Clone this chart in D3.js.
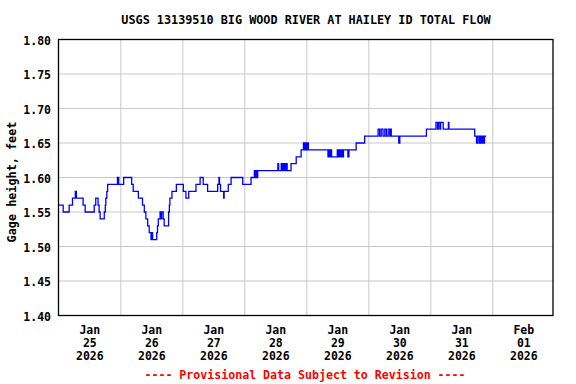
<!DOCTYPE html>
<html>
<head>
<meta charset="utf-8">
<script src="https://cdn.jsdelivr.net/npm/d3@7"></script>
<style>
  body { margin: 0; background: #fff; }
  text { font-family: "DejaVu Sans Mono", monospace; font-weight: bold; }
</style>
</head>
<body>
<script>
// gage readings: hours since Jan 25 2026 00:00 and gage height (ft), stored as change points
var readingHours = [0.0, 1.7, 4.0, 5.3, 6.4, 6.8, 9.4, 10.2, 13.7, 14.3, 15.2, 15.6, 16.0, 17.6, 18.0, 18.2, 18.6, 18.9,
  22.7, 23.2, 25.1, 28.2, 28.8, 30.8, 32.4, 33.1, 33.7, 34.4, 35.0, 35.7, 36.0, 36.3, 37.9, 38.2, 38.5,
  39.2, 39.5, 39.8, 40.4, 40.8, 42.5, 42.8, 43.0, 43.8, 45.5, 48.2, 49.2, 50.3, 53.1, 54.7, 55.9, 57.6,
  61.5, 62.0, 62.2, 62.6, 63.8, 64.0, 65.6, 66.7, 71.2, 74.4, 75.7, 76.0, 76.3, 76.6, 77.0, 84.8, 85.1,
  86.1, 86.5, 87.0, 87.5, 88.0, 88.4, 89.9, 91.9, 93.8, 94.7, 95.0, 95.3, 95.8, 96.1, 96.6,
  104.2, 104.5, 104.8, 105.2, 105.6, 107.8, 108.1, 108.5, 108.9, 109.3, 109.8, 110.2, 111.9, 112.3,
  115.1, 118.4, 123.6, 124.2, 124.8, 125.5, 126.2, 126.8, 127.5, 128.1, 128.4, 128.7, 131.6, 132.0,
  142.3, 146.0, 146.6, 146.9, 147.5, 147.8, 148.8, 150.8, 151.0, 161.0, 161.7, 162.0, 162.6, 163.0,
  163.5, 164.0, 164.4, 164.8, 165.5];
var gageHeight = [1.56, 1.55, 1.56, 1.57, 1.58, 1.57, 1.56, 1.55, 1.56, 1.57, 1.56, 1.55, 1.54, 1.55, 1.56, 1.57, 1.58, 1.59,
  1.60, 1.59, 1.60, 1.59, 1.58, 1.57, 1.56, 1.55, 1.54, 1.53, 1.52, 1.51, 1.52, 1.51, 1.52, 1.53, 1.54,
  1.55, 1.54, 1.55, 1.54, 1.53, 1.55, 1.56, 1.57, 1.58, 1.59, 1.58, 1.57, 1.58, 1.59, 1.60, 1.59, 1.58,
  1.59, 1.60, 1.59, 1.58, 1.57, 1.58, 1.59, 1.60, 1.59, 1.60, 1.61, 1.60, 1.61, 1.60, 1.61, 1.62, 1.61,
  1.62, 1.61, 1.62, 1.61, 1.62, 1.61, 1.62, 1.63, 1.64, 1.65, 1.64, 1.65, 1.64, 1.65, 1.64,
  1.63, 1.64, 1.63, 1.64, 1.63, 1.64, 1.63, 1.64, 1.63, 1.64, 1.63, 1.64, 1.63, 1.64,
  1.65, 1.66, 1.67, 1.66, 1.67, 1.66, 1.67, 1.66, 1.67, 1.66, 1.67, 1.66, 1.65, 1.66,
  1.67, 1.68, 1.67, 1.68, 1.67, 1.68, 1.67, 1.68, 1.67, 1.66, 1.65, 1.66, 1.65, 1.66,
  1.65, 1.66, 1.65, 1.66, 1.66];

var yTicks = [1.40, 1.45, 1.50, 1.55, 1.60, 1.65, 1.70, 1.75, 1.80];
var startDate = Date.UTC(2026, 0, 25);
var endDate = Date.UTC(2026, 1, 2);

var titleText = "USGS 13139510 BIG WOOD RIVER AT HAILEY ID TOTAL FLOW";
var yLabel = "Gage height, feet";
var footText = "---- Provisional Data Subject to Revision ----";

drawChart();

function drawChart(){
  var width = 576, height = 384;
  var pLeft = 58.5, pRight = 553, pTop = 39.5, pBottom = 315.5;

  var svg = d3.select("body").append("svg")
    .attr("width", width)
    .attr("height", height);

  var x = d3.scaleUtc()
    .domain([new Date(startDate), new Date(endDate)])
    .range([pLeft + 0.3, pLeft + 496.3]);

  var y = d3.scaleLinear()
    .domain([1.40, 1.80])
    .range([pBottom, pTop]);

  var data = readingHours.map(function(h, i) {
    return { t: new Date(startDate + h * 3600e3), v: gageHeight[i] };
  });

  svg.append("clipPath").attr("id", "plot")
    .append("rect")
    .attr("x", pLeft).attr("y", pTop)
    .attr("width", pRight - pLeft).attr("height", pBottom - pTop);

  // horizontal grid
  svg.selectAll(".hgrid")
    .data(yTicks.slice(1, -1))
    .enter().append("line")
    .attr("class", "hgrid")
    .attr("x1", pLeft).attr("x2", pRight)
    .attr("y1", function(d) { return y(d); })
    .attr("y2", function(d) { return y(d); })
    .attr("stroke", "#c8c8c8")
    .attr("stroke-width", 1);

  // vertical grid at midnight
  var days = d3.utcDay.range(new Date(startDate), new Date(endDate));
  svg.selectAll(".vgrid")
    .data(days.slice(1))
    .enter().append("line")
    .attr("class", "vgrid")
    .attr("x1", function(d) { return x(d); })
    .attr("x2", function(d) { return x(d); })
    .attr("y1", pTop).attr("y2", pBottom)
    .attr("stroke", "#c8c8c8")
    .attr("stroke-width", 1);

  // gage line
  var line = d3.line()
    .x(function(d) { return x(d.t); })
    .y(function(d) { return y(d.v); })
    .curve(d3.curveStepAfter);

  svg.append("path")
    .datum(data)
    .attr("clip-path", "url(#plot)")
    .attr("d", line)
    .attr("fill", "none")
    .attr("stroke", "#0000ff")
    .attr("stroke-width", 1.3);

  // frame
  svg.append("rect")
    .attr("x", pLeft).attr("y", pTop)
    .attr("width", pRight - pLeft).attr("height", pBottom - pTop)
    .attr("fill", "none")
    .attr("stroke", "#000")
    .attr("stroke-width", 1.3);

  // y tick labels
  svg.selectAll(".ylab")
    .data(yTicks)
    .enter().append("text")
    .attr("class", "ylab")
    .attr("x", 51)
    .attr("y", function(d) { return y(d) + 5; })
    .attr("text-anchor", "end")
    .attr("font-size", "11.5px")
    .text(function(d) { return d3.format(".2f")(d); });

  // x tick labels centred on each day
  var xl = svg.selectAll(".xlab")
    .data(days)
    .enter().append("text")
    .attr("class", "xlab")
    .attr("text-anchor", "middle")
    .attr("font-size", "11.5px")
    .attr("transform", function(d) {
      return "translate(" + x(d3.utcHour.offset(d, 12)) + ",0)";
    });
  xl.append("tspan").attr("x", 0).attr("y", 334).text(d3.utcFormat("%b"));
  xl.append("tspan").attr("x", 0).attr("y", 347).text(d3.utcFormat("%d"));
  xl.append("tspan").attr("x", 0).attr("y", 360).text(d3.utcFormat("%Y"));

  // title
  svg.append("text")
    .attr("x", 306)
    .attr("y", 24)
    .attr("text-anchor", "middle")
    .attr("font-size", "11.8px")
    .text(titleText);

  // y axis label
  svg.append("text")
    .attr("transform", "translate(16,182) rotate(-90)")
    .attr("text-anchor", "middle")
    .attr("font-size", "11.8px")
    .text(yLabel);

  // provisional note
  svg.append("text")
    .attr("x", 305)
    .attr("y", 379)
    .attr("text-anchor", "middle")
    .attr("font-size", "11.6px")
    .attr("fill", "#ff0000")
    .text(footText);
}
</script>
</body>
</html>
